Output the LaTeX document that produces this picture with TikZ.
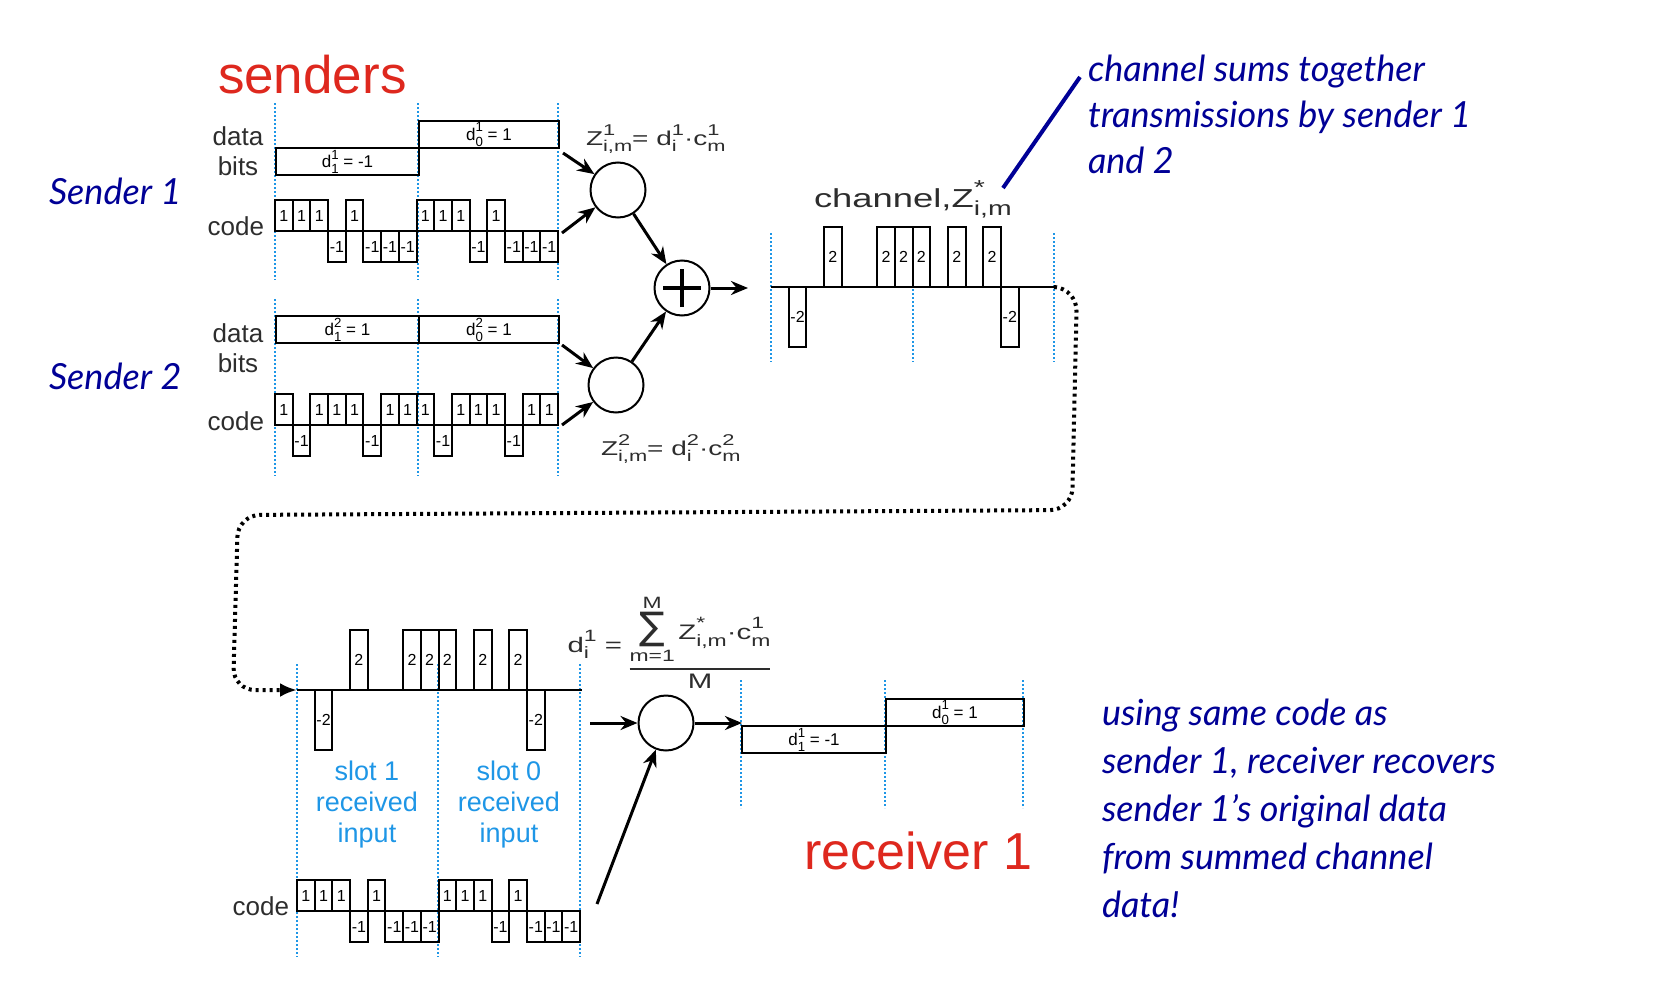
\documentclass[tikz,border=0pt]{standalone}
\usepackage{amsmath}
\usepackage{fontspec}
\setmainfont{Liberation Sans}
\setsansfont{Liberation Sans}[FakeStretch=1.4]
\newfontfamily\notefont{Lato}
\newfontfamily\symfont{DejaVu Sans}
\usetikzlibrary{arrows.meta}
\definecolor{navy}{RGB}{0,0,150}
\definecolor{slotblue}{RGB}{30,150,230}
\definecolor{labred}{RGB}{222,40,30}
\definecolor{ink}{RGB}{45,45,45}
\newcommand{\fsz}[2]{\fontsize{#1}{#2}\selectfont}
\newcommand{\ixs}[2]{\ooalign{\raisebox{.5em}{\scalebox{.78}{#1}}\cr\raisebox{-.33em}{\scalebox{.78}{#2}}\cr}}

\begin{document}
\begin{tikzpicture}[x=1pt,y=-1pt,>={Stealth[length=17pt,width=14pt]},line width=2pt]
  \tikzstyle{mult}=[circle,draw,minimum size=55pt,inner sep=0pt]
  \tikzstyle{bitbox}=[draw,minimum height=27pt,inner sep=0pt,anchor=north west,font=\fsz{17}{19}]
  \tikzstyle{chip}=[draw]
  \tikzstyle{chiptext}=[font=\fsz{16}{18},inner sep=0pt]
  \tikzstyle{slotline}=[slotblue,dotted,line width=2pt]
  \tikzstyle{flow}=[->,line width=3pt]
  \tikzstyle{rowlabel}=[ink,font=\fsz{26}{30},anchor=base,inner sep=0pt]
  \tikzstyle{formula}=[ink,font=\sffamily\fsz{20}{23},anchor=base west,inner sep=0pt]
  \tikzstyle{bignote}=[navy,font=\notefont\itshape\fsz{36}{48},align=left,anchor=base west,inner sep=0pt]
  \tikzstyle{loopback}=[line width=4pt,dash pattern=on 3pt off 4pt,rounded corners=22pt,-{Latex[length=17pt,width=14pt]}]

  \useasboundingbox (0,0) rectangle (1657,1001);

  \node[labred,font=\fsz{53}{60},anchor=base west,inner sep=0pt] (senders) at (217,93) {senders};
  \node[bignote] (sender1) at (48,204) {Sender 1};
  \node[bignote] (sender2) at (48,389) {Sender 2};

  % sender 1
  \foreach \x in {275,418,558} \draw[slotline] (\x,103) -- (\x,280);
  \node[bitbox,minimum width=143pt] (s1b1) at (275,147) {d\ixs{1}{1} = -1};
  \node[bitbox,minimum width=140pt] (s1b0) at (418,120) {d\ixs{1}{0} = 1};
  \node[rowlabel] (s1data) at (238,145) {data};
  \node[rowlabel] (s1bits) at (238,175) {bits};
  \node[rowlabel,anchor=base east] (s1code) at (265,235) {code};
  \foreach \v [count=\k from 0] in {1,1,1,-1,1,-1,-1,-1,1,1,1,-1,1,-1,-1,-1} {
    \draw[chip] ({275+17.69*\k},231) rectangle ++(17.69,{-31*\v});
    \node[chiptext] (s1c\k) at ({275+17.69*(\k+0.5)},{231-15.5*\v}) {\v};
  }

  % sender 2
  \foreach \x in {275,418,558} \draw[slotline] (\x,299) -- (\x,476);
  \node[bitbox,minimum width=143pt] (s2b1) at (275,315) {d\ixs{2}{1} = 1};
  \node[bitbox,minimum width=140pt] (s2b0) at (418,315) {d\ixs{2}{0} = 1};
  \node[rowlabel] (s2data) at (238,342) {data};
  \node[rowlabel] (s2bits) at (238,372) {bits};
  \node[rowlabel,anchor=base east] (s2code) at (265,430) {code};
  \foreach \v [count=\k from 0] in {1,-1,1,1,1,-1,1,1,1,-1,1,1,1,-1,1,1} {
    \draw[chip] ({275+17.69*\k},425) rectangle ++(17.69,{-31*\v});
    \node[chiptext] (s2c\k) at ({275+17.69*(\k+0.5)},{425-15.5*\v}) {\v};
  }

  % spreading and summing
  \node[mult] (m1) at (618,190) {};
  \node[mult] (m2) at (616,385) {};
  \node[mult] (sum) at (682,288) {};
  \draw[line width=4pt] ([xshift=-19pt]sum.center) -- ([xshift=19pt]sum.center)
                        ([yshift=-19pt]sum.center) -- ([yshift=19pt]sum.center);
  \node[formula] (z1) at (585,145) {Z\ixs{1}{i,m}= d\ixs{1}{i}·c\ixs{1}{m}};
  \node[formula] (z2) at (600,455) {Z\ixs{2}{i,m}= d\ixs{2}{i}·c\ixs{2}{m}};
  \coordinate (s1bitsout) at (563,153);
  \coordinate (s1codeout) at (562,233);
  \coordinate (s2bitsout) at (562,345);
  \coordinate (s2codeout) at (562,425);
  \coordinate (chIn) at (748,288);
  \path[flow] (s1bitsout) edge (m1)
              (s1codeout) edge (m1)
              (s2bitsout) edge (m2)
              (s2codeout) edge (m2)
              (m1)        edge (sum)
              (m2)        edge (sum)
              (sum)       edge (chIn);

  % channel
  \foreach \x in {771,913,1054} \draw[slotline] (\x,233) -- (\x,362);
  \draw (771,287) -- (1054,287);
  \foreach \v [count=\k from 0] in {0,-2,0,2,0,0,2,2,2,0,2,0,2,-2,0,0} {
    \ifnum\v=0\relax\else
      \draw[chip] ({771+17.69*\k},287) rectangle ++(17.69,{-30*\v});
      \node[chiptext] (chc\k) at ({771+17.69*(\k+0.5)},{287-15*\v}) {\v};
    \fi
  }
  \node[formula,font=\sffamily\fsz{26}{30}] (chlabel) at (813,207) {channel,Z\ixs{*}{i,m}};
  \coordinate (calloutA) at (1003,188);
  \coordinate (calloutB) at (1080,77);
  \draw[navy,line width=4pt] (calloutA) -- (calloutB);
  \node[bignote,font=\notefont\itshape\fsz{36}{46}] (chnote) at (1087,173) {channel sums together\\transmissions by sender 1\\and 2};

  \coordinate (chEnd) at (1054,287);
  \coordinate (rxStart) at (297,690);
  \draw[loopback] (chEnd) -- (1077,289) -- (1072,510) -- (238,515) -- (233,690) -- (rxStart);

  % receiver
  \foreach \x in {297,438,580} \draw[slotline] (\x,664) -- (\x,957);
  \draw (297,690) -- (582,690);
  \foreach \v [count=\k from 0] in {0,-2,0,2,0,0,2,2,2,0,2,0,2,-2,0,0} {
    \ifnum\v=0\relax\else
      \draw[chip] ({297+17.69*\k},690) rectangle ++(17.69,{-30*\v});
      \node[chiptext] (rxc\k) at ({297+17.69*(\k+0.5)},{690-15*\v}) {\v};
    \fi
  }
  \node[slotblue,font=\fsz{27}{31},align=center] (slot1) at (367,805) {slot 1\\received\\input};
  \node[slotblue,font=\fsz{27}{31},align=center] (slot0) at (509,805) {slot 0\\received\\input};
  \node[rowlabel,anchor=base east] (rxcode) at (290,915) {code};
  \foreach \v [count=\k from 0] in {1,1,1,-1,1,-1,-1,-1,1,1,1,-1,1,-1,-1,-1} {
    \draw[chip] ({297+17.69*\k},911) rectangle ++(17.69,{-31*\v});
    \node[chiptext] (rxk\k) at ({297+17.69*(\k+0.5)},{911-15.5*\v}) {\v};
  }
  \node[mult] (rxm) at (666,723) {};
  \node[formula,font=\sffamily\fsz{21}{24},anchor=base east] (decodeL) at (623,652) {d\ixs{1}{i} =};
  \node[formula,font=\sffamily\fsz{21}{24},anchor=base] (decodeR) at (700,674)
    {$\genfrac{}{}{1.5pt}{0}{\mathop{\mbox{\symfont\fsz{38}{38}∑}}\limits_{\mbox{\scalebox{.78}{m=1}}}^{\mbox{\scalebox{.78}{M}}}\mbox{Z\ixs{*}{i,m}·c\ixs{1}{m}}}{\mbox{M}}$};
  \coordinate (rxIn) at (590,723);
  \coordinate (rxOut) at (742,723);
  \coordinate (rxCodeOut) at (597,904);
  \path[flow] (rxIn)      edge (rxm)
              (rxCodeOut) edge (rxm)
              (rxm)       edge (rxOut);
  \foreach \x in {741,885,1023} \draw[slotline] (\x,680) -- (\x,808);
  \node[bitbox,minimum width=144pt] (rxb1) at (741,725) {d\ixs{1}{1} = -1};
  \node[bitbox,minimum width=138pt] (rxb0) at (885,698) {d\ixs{1}{0} = 1};
  \node[labred,font=\fsz{52}{60},anchor=base west,inner sep=0pt] (receiver) at (803,869) {receiver 1};
  \node[bignote] (rxnote) at (1101,917) {using same code as\\sender 1, receiver recovers\\sender 1’s original data\\from summed channel\\data!};
\end{tikzpicture}
\end{document}
